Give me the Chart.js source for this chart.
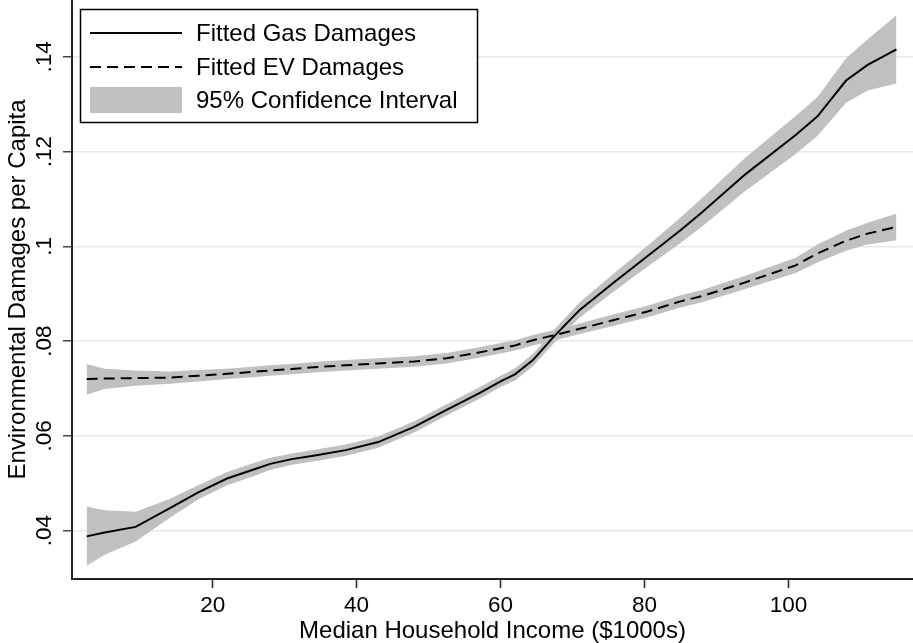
<!DOCTYPE html>
<html><head><meta charset="utf-8">
<script src="https://cdn.jsdelivr.net/npm/chart.js@4.4.1/dist/chart.umd.min.js"></script>
<style>html,body{margin:0;padding:0;background:#fff;overflow:hidden}canvas{display:block}</style>
</head><body>
<canvas id="c" width="913" height="643"></canvas>
<script>
const income  = [2.5, 5, 9.3, 14, 18, 22, 25.5, 28, 31, 34, 38.5, 43, 48, 52.5, 57, 60, 62, 64.5, 67.3, 71, 75.6, 80.3, 85, 88, 94, 101, 104, 108, 111, 115];
const gasFit  = [0.0388,0.0396,0.0408,0.0447,0.0481,0.0510,0.0528,0.0541,0.0551,0.0558,0.0570,0.0587,0.0619,0.0655,0.0690,0.0715,0.0730,0.0760,0.0808,0.0866,0.0922,0.0978,0.1034,0.1072,0.1152,0.1235,0.1274,0.1350,0.1383,0.1416];
const gasLow  = [0.0326,0.0349,0.0377,0.0427,0.0466,0.0496,0.0514,0.0528,0.0539,0.0546,0.0558,0.0575,0.0607,0.0643,0.0678,0.0703,0.0717,0.0747,0.0794,0.0850,0.0903,0.0956,0.1007,0.1042,0.1117,0.1195,0.1233,0.1303,0.1329,0.1344];
const gasHigh = [0.0451,0.0443,0.0440,0.0467,0.0496,0.0524,0.0542,0.0554,0.0563,0.0570,0.0582,0.0599,0.0631,0.0667,0.0702,0.0727,0.0743,0.0773,0.0822,0.0882,0.0941,0.1000,0.1061,0.1102,0.1187,0.1275,0.1315,0.1397,0.1437,0.1488];
const evFit   = [0.0720,0.0721,0.0722,0.0723,0.0727,0.0731,0.0735,0.0738,0.0741,0.0745,0.0749,0.0753,0.0757,0.0764,0.0776,0.0785,0.0791,0.0802,0.0812,0.0826,0.0844,0.0862,0.0884,0.0895,0.0924,0.0960,0.0985,0.1012,0.1027,0.1041];
const evLow   = [0.0687,0.0699,0.0706,0.0710,0.0715,0.0720,0.0724,0.0727,0.0730,0.0734,0.0738,0.0742,0.0746,0.0753,0.0765,0.0774,0.0780,0.0791,0.0801,0.0815,0.0832,0.0850,0.0871,0.0882,0.0910,0.0944,0.0966,0.0991,0.1004,0.1013];
const evHigh  = [0.0752,0.0742,0.0738,0.0736,0.0739,0.0742,0.0746,0.0749,0.0752,0.0756,0.0760,0.0764,0.0768,0.0775,0.0787,0.0796,0.0802,0.0813,0.0823,0.0837,0.0856,0.0874,0.0897,0.0908,0.0938,0.0976,0.1004,0.1033,0.1050,0.1069];
const xTickValues = [20, 40, 60, 80, 100];
const yTickValues = [0.04, 0.06, 0.08, 0.10, 0.12, 0.14];
const yTickLabels = ['.04', '.06', '.08', '.1', '.12', '.14'];
const legendLabels = ['Fitted Gas Damages', 'Fitted EV Damages', '95% Confidence Interval'];
const xTitle = 'Median Household Income ($1000s)';
const yTitle = 'Environmental Damages per Capita';

const FONT = '"Liberation Sans", Arial, Helvetica, sans-serif';
const CI = '#c0c0c0';
const pts = ys => income.map((x, i) => ({x: x, y: ys[i]}));
const band = (d, f) => ({data: pts(d), borderWidth: 0, borderColor: 'transparent', backgroundColor: CI, pointRadius: 0, fill: f, order: 2, tension: 0});

const overlay = {
  id: 'overlay',
  afterDraw(chart) {
    const ctx = chart.ctx, ys = chart.scales.y, ca = chart.chartArea;
    ctx.save();
    ctx.fillStyle = '#000';
    // y tick labels (rotated)
    ctx.font = '22.5px ' + FONT;
    ctx.textAlign = 'center';
    ctx.textBaseline = 'alphabetic';
    yTickValues.forEach((v, i) => {
      const py = ys.getPixelForValue(v);
      ctx.save(); ctx.translate(51, py); ctx.rotate(-Math.PI / 2);
      ctx.fillText(yTickLabels[i], 0, 0); ctx.restore();
    });
    // y title
    ctx.font = '24px ' + FONT;
    ctx.save(); ctx.translate(25, (ca.top + ca.bottom) / 2); ctx.rotate(-Math.PI / 2);
    ctx.fillText(yTitle, 0, 0); ctx.restore();
    // x title
    ctx.fillText(xTitle, (ca.left + ca.right) / 2, 638);
    // legend
    const lx = 80.5, ly = 9.5, lw = 397, lh = 113;
    ctx.fillStyle = '#fff'; ctx.fillRect(lx, ly, lw, lh);
    ctx.strokeStyle = '#000'; ctx.lineWidth = 1.5; ctx.strokeRect(lx, ly, lw, lh);
    ctx.lineWidth = 2;
    ctx.beginPath(); ctx.moveTo(90, 33); ctx.lineTo(182, 33); ctx.stroke();
    ctx.setLineDash([11, 6]);
    ctx.beginPath(); ctx.moveTo(90, 67); ctx.lineTo(182, 67); ctx.stroke();
    ctx.setLineDash([]);
    ctx.fillStyle = CI; ctx.fillRect(90, 87, 92, 26);
    ctx.fillStyle = '#000';
    ctx.font = '24px ' + FONT;
    ctx.textAlign = 'left'; ctx.textBaseline = 'middle';
    ctx.fillText(legendLabels[0], 196, 34);
    ctx.fillText(legendLabels[1], 196, 68);
    ctx.fillText(legendLabels[2], 196, 101);
    ctx.restore();
  }
};

new Chart(document.getElementById('c'), {
  type: 'line',
  data: {
    datasets: [
      {label: legendLabels[0], data: pts(gasFit), borderColor: '#000', borderWidth: 2, pointRadius: 0, fill: false, order: 0, tension: 0},
      {label: legendLabels[1], data: pts(evFit), borderColor: '#000', borderWidth: 2, borderDash: [11, 6], pointRadius: 0, fill: false, order: 0, tension: 0},
      band(gasLow, false),
      band(gasHigh, '-1'),
      band(evLow, false),
      band(evHigh, '-1')
    ]
  },
  options: {
    responsive: false,
    animation: false,
    devicePixelRatio: 1,
    layout: {padding: 0},
    plugins: {legend: {display: false}, tooltip: {enabled: false}, title: {display: false}},
    scales: {
      x: {
        type: 'linear', position: 'bottom', min: 0.46, max: 117.3,
        afterBuildTicks: s => { s.ticks = xTickValues.map(v => ({value: v})); },
        afterFit: s => { s.height = 64; },
        grid: {drawOnChartArea: false, drawTicks: true, tickLength: 9, tickColor: '#222', tickWidth: 1.5},
        border: {display: true, color: '#222', width: 2},
        ticks: {font: {family: FONT, size: 22.5}, color: '#000', padding: 4, maxRotation: 0, minRotation: 0, autoSkip: false, callback: v => String(v)}
      },
      y: {
        type: 'linear', position: 'left', min: 0.0298, max: 0.152,
        afterBuildTicks: s => { s.ticks = yTickValues.map(v => ({value: v})); },
        afterFit: s => { s.width = 72; },
        grid: {color: '#e8e8e8', lineWidth: 1.5, drawTicks: true, tickLength: 9, tickColor: '#444', tickWidth: 1.5},
        border: {display: true, color: '#222', width: 2},
        ticks: {display: false}
      }
    }
  },
  plugins: [overlay]
});
</script>
</body></html>
